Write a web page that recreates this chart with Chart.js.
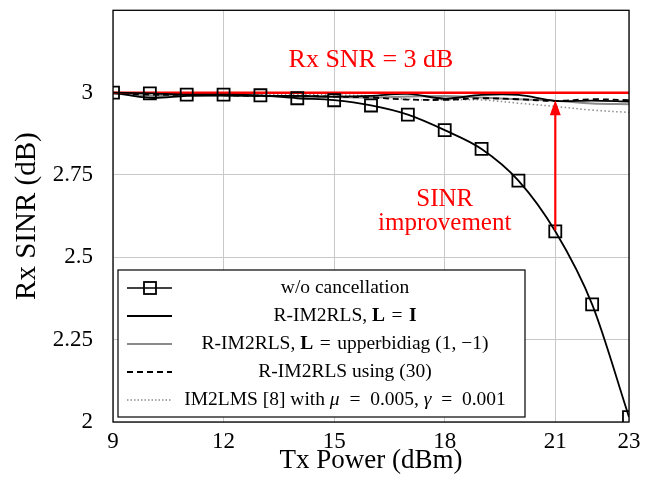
<!DOCTYPE html>
<html><head><meta charset="utf-8">
<script src="https://cdn.jsdelivr.net/npm/chart.js@4"></script>
<style>html,body{margin:0;padding:0;background:#fff}canvas{display:block}</style>
</head><body>
<div style="width:667px;height:491px"><canvas id="c" width="667" height="491"></canvas></div>
<script>
// ---- data ----
const txPower       = [9, 10, 11, 12, 13, 14, 15, 16, 17, 18, 19, 20, 21, 22, 23];
const woCancel      = [3.0, 2.998, 2.994, 2.994, 2.992, 2.983, 2.977, 2.961, 2.933, 2.886, 2.829, 2.733, 2.579, 2.357, 2.015];
const rim2rlsI      = [3.0, 2.984, 2.990, 2.992, 2.990, 2.990, 2.988, 2.990, 2.996, 2.982, 2.993, 2.993, 2.975, 2.976, 2.973];
const rim2rlsBidiag = [2.998, 2.990, 2.992, 2.990, 2.990, 2.988, 2.987, 2.985, 2.988, 2.990, 2.985, 2.980, 2.975, 2.967, 2.965];
const rim2rls30     = [2.998, 2.994, 2.993, 2.992, 2.990, 2.990, 2.988, 2.985, 2.979, 2.978, 2.983, 2.980, 2.975, 2.980, 2.977];
const im2lms        = [3.0, 2.996, 2.994, 2.995, 2.995, 2.994, 2.993, 2.990, 2.980, 2.978, 2.978, 2.968, 2.958, 2.947, 2.940];
const snrX          = [9, 23];
const snrY          = [3, 3];
const xTickValues   = [9, 12, 15, 18, 21, 23];
const yTickValues   = [2, 2.25, 2.5, 2.75, 3];
const yTickLabels   = ['2', '2.25', '2.5', '2.75', '3'];
const arrowX = 21, arrowFrom = 2.582, arrowTo = 2.977;
const snrLabel = {x: 16, y: 3.10, text: 'Rx SNR = 3 dB'};
const impLabel = {x: 18, y1: 2.675, y2: 2.604, t1: 'SINR', t2: 'improvement'};
const legendNames = [
  [['w/o cancellation', '']],
  [['R-IM2RLS, ', ''], ['L', 'bold'], ['\u2004=\u2004', ''], ['I', 'bold']],
  [['R-IM2RLS, ', ''], ['L', 'bold'], ['\u2004=\u2004upperbidiag (1, \u22121)', '']],
  [['R-IM2RLS using (30)', '']],
  [['IM2LMS [8] with ', ''], ['\u03bc', 'italic'], ['\u2002=\u20020.005, ', ''], ['\u03b3', 'italic'], ['\u2002=\u20020.001', '']]
];

const SERIF = '"Liberation Serif", "DejaVu Serif", serif';
const pts = arr => arr.map((v, i) => ({x: txPower[i], y: v}));

const decor = {
  id: 'decor',
  afterDatasetsDraw(chart) {
    const {ctx, chartArea: a, scales: {x, y}} = chart;
    ctx.save();
    ctx.strokeStyle = '#000'; ctx.lineWidth = 1.3;
    ctx.strokeRect(a.left, a.top, a.right - a.left, a.bottom - a.top);
    const ax = x.getPixelForValue(arrowX);
    const y0 = y.getPixelForValue(arrowFrom), y1 = y.getPixelForValue(arrowTo);
    ctx.strokeStyle = '#ff0000'; ctx.fillStyle = '#ff0000'; ctx.lineWidth = 2.2;
    ctx.beginPath(); ctx.moveTo(ax, y0); ctx.lineTo(ax, y1 + 12); ctx.stroke();
    ctx.beginPath(); ctx.moveTo(ax, y1); ctx.lineTo(ax - 5.5, y1 + 15); ctx.lineTo(ax + 5.5, y1 + 15); ctx.closePath(); ctx.fill();
    ctx.textAlign = 'center'; ctx.textBaseline = 'middle';
    ctx.font = '26px ' + SERIF;
    ctx.fillText(snrLabel.text, x.getPixelForValue(snrLabel.x), y.getPixelForValue(snrLabel.y));
    ctx.font = '25px ' + SERIF;
    ctx.fillText(impLabel.t1, x.getPixelForValue(impLabel.x), y.getPixelForValue(impLabel.y1));
    ctx.fillText(impLabel.t2, x.getPixelForValue(impLabel.x), y.getPixelForValue(impLabel.y2));
    ctx.restore();
  },
  afterDraw(chart) {
    const {ctx} = chart;
    ctx.save();
    const bx = 118, by = 270, bw = 407, bh = 147;
    ctx.fillStyle = '#fff'; ctx.fillRect(bx, by, bw, bh);
    ctx.strokeStyle = '#000'; ctx.lineWidth = 1.2; ctx.strokeRect(bx, by, bw, bh);
    const rows = [288, 316, 344, 372, 400];
    const styles = [
      {c: '#000', w: 1.6, d: [], sq: true},
      {c: '#000', w: 2.2, d: []},
      {c: '#8a8a8a', w: 2.2, d: []},
      {c: '#000', w: 2.2, d: [6, 4]},
      {c: '#8a8a8a', w: 1.4, d: [1.5, 2]}
    ];
    rows.forEach((ry, i) => {
      const s = styles[i];
      ctx.strokeStyle = s.c; ctx.lineWidth = s.w; ctx.setLineDash(s.d);
      ctx.beginPath(); ctx.moveTo(127, ry); ctx.lineTo(172, ry); ctx.stroke();
      ctx.setLineDash([]);
      if (s.sq) { ctx.lineWidth = 1.8; ctx.strokeRect(144, ry - 6, 12, 12); }
      const segs = legendNames[i];
      ctx.textBaseline = 'middle'; ctx.textAlign = 'left'; ctx.fillStyle = '#000';
      let total = 0;
      segs.forEach(sg => { ctx.font = (sg[1] ? sg[1] + ' ' : '') + '19.5px ' + SERIF; total += ctx.measureText(sg[0]).width; });
      let tx = 345 - total / 2;
      segs.forEach(sg => { ctx.font = (sg[1] ? sg[1] + ' ' : '') + '19.5px ' + SERIF; ctx.fillText(sg[0], tx, ry); tx += ctx.measureText(sg[0]).width; });
    });
    ctx.restore();
  }
};

new Chart(document.getElementById('c'), {
  type: 'line',
  data: {
    datasets: [
      {label: 'w/o cancellation', data: pts(woCancel), borderColor: '#000', borderWidth: 1.8,
       pointStyle: 'rect', pointRadius: 8.5, pointBorderWidth: 1.8, pointBorderColor: '#000',
       pointBackgroundColor: 'rgba(0,0,0,0)', cubicInterpolationMode: 'monotone'},
      {label: 'Rx SNR', data: snrX.map((v, i) => ({x: v, y: snrY[i]})), borderColor: '#ff0000', borderWidth: 2.5, pointRadius: 0},
      {label: 'R-IM2RLS, L = I', data: pts(rim2rlsI), borderColor: '#000', borderWidth: 1.8, pointRadius: 0, tension: 0.35},
      {label: 'R-IM2RLS using (30)', data: pts(rim2rls30), borderColor: '#000', borderWidth: 1.8, borderDash: [6, 4], pointRadius: 0, tension: 0.35},
      {label: 'R-IM2RLS, L = upperbidiag', data: pts(rim2rlsBidiag), borderColor: '#8a8a8a', borderWidth: 2, pointRadius: 0, tension: 0.35},
      {label: 'IM2LMS', data: pts(im2lms), borderColor: '#8a8a8a', borderWidth: 1.5, borderDash: [1.5, 2.5], pointRadius: 0, tension: 0.35}
    ]
  },
  options: {
    responsive: false, animation: false, devicePixelRatio: 1,
    layout: {padding: {left: 0, top: 4, right: 38, bottom: 0}},
    plugins: {legend: {display: false}, tooltip: {enabled: false}},
    scales: {
      x: {
        type: 'linear', min: 9, max: 23,
        afterBuildTicks: s => { s.ticks = xTickValues.map(v => ({value: v})); },
        afterFit: s => { s.height = 69; s.paddingLeft = 0; s.paddingRight = 0; },
        grid: {color: '#c8c8c8', lineWidth: 1, drawTicks: false},
        border: {display: false},
        ticks: {color: '#000', font: {family: SERIF, size: 23}, padding: 6, maxRotation: 0, autoSkip: false},
        title: {display: true, text: 'Tx Power (dBm)', color: '#000', font: {family: SERIF, size: 27}, padding: {top: 0, bottom: 14}}
      },
      y: {
        type: 'linear', min: 2, max: 3.25,
        afterBuildTicks: s => { s.ticks = yTickValues.map(v => ({value: v})); },
        afterFit: s => { s.width = 113; s.paddingTop = 0; s.paddingBottom = 0; },
        grid: {color: '#c8c8c8', lineWidth: 1, drawTicks: false},
        border: {display: false},
        ticks: {color: '#000', font: {family: SERIF, size: 23}, padding: 20, autoSkip: false,
                callback: (v, i) => yTickLabels[i]},
        title: {display: true, text: 'Rx SINR (dB)', color: '#000', font: {family: SERIF, size: 29}, padding: {top: 10, bottom: 0}}
      }
    }
  },
  plugins: [decor]
});
</script>
</body></html>
